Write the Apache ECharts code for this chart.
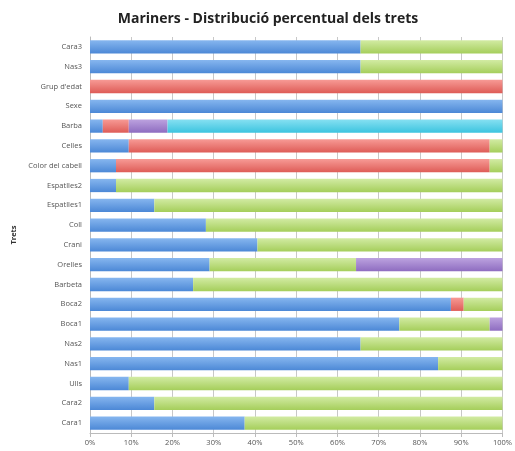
<!DOCTYPE html>
<html><head><meta charset="utf-8">
<script src="https://cdn.jsdelivr.net/npm/echarts@6/dist/echarts.min.js"></script>
<style>html,body{margin:0;padding:0;background:#fff}#c{width:515px;height:451px}</style>
</head><body><div id="c"></div>
<script>
// categories bottom to top
const categories = ["Cara1","Cara2","Ulls","Nas1","Nas2","Boca1","Boca2","Barbeta","Orelles","Crani","Coll","Espatlles1","Espatlles2","Color del cabell","Celles","Barba","Sexe","Grup d'edat","Nas3","Cara3"];
const tickLabels = ["0%","10%","20%","30%","40%","50%","60%","70%","80%","90%","100%"];
const serie1 = [37.5,15.6,9.4,84.4,65.6,75.0,87.5,25.0,29.0,40.6,28.1,15.6,6.3,6.3,9.4,3.1,100,0,65.6,65.6];
const serie2 = [0,0,0,0,0,0,3.1,0,0,0,0,0,0,90.6,87.5,6.3,0,100,0,0];
const serie3 = [62.5,84.4,90.6,15.6,34.4,21.9,9.4,75.0,35.5,59.4,71.9,84.4,93.7,3.1,3.1,0,0,0,34.4,34.4];
const serie4 = [0,0,0,0,0,3.1,0,0,35.5,0,0,0,0,0,0,9.4,0,0,0,0];
const serie5 = [0,0,0,0,0,0,0,0,0,0,0,0,0,0,0,81.2,0,0,0,0];

function grad(top, bottom){
  return new echarts.graphic.LinearGradient(0,0,0,1,[{offset:0,color:top},{offset:1,color:bottom}]);
}
const colors = [
  grad('#86B6EF','#4C88D6'),
  grad('#F79A95','#DE5C57'),
  grad('#D2EBA3','#A5CE5B'),
  grad('#BCA2DF','#8E6CC0'),
  grad('#86E0F2','#3CC4DF')
];
const data = [serie1,serie2,serie3,serie4,serie5];
const chart = echarts.init(document.getElementById('c'));
chart.setOption({
  animation:false,
  title:{text:'Mariners - Distribució percentual dels trets',left:263,textAlign:'center',top:7,
    textStyle:{fontFamily:'Open Sans',fontWeight:'bold',fontSize:14,color:'#222'}},
  grid:{left:90,right:10,top:37,bottom:18,containLabel:false},
  xAxis:{type:'value',min:0,max:100,interval:10,
    axisLabel:{formatter:v=>tickLabels[v/10],fontSize:7.5,color:'#555',fontFamily:'Open Sans',margin:6},
    axisLine:{show:true,lineStyle:{color:'#bbb'}},
    axisTick:{show:true,length:4,lineStyle:{color:'#bbb'}},
    splitLine:{show:true,lineStyle:{color:'#c8c8c8',width:1}}},
  yAxis:{type:'category',data:categories,name:'Trets',nameLocation:'middle',nameGap:70,nameRotate:90,
    nameTextStyle:{fontSize:7.5,fontWeight:'bold',color:'#333',fontFamily:'Open Sans'},
    axisLabel:{fontSize:7.5,color:'#555',fontFamily:'Open Sans',margin:8},
    axisLine:{show:true,lineStyle:{color:'#bbb'}},axisTick:{show:false},splitLine:{show:false}},
  series:data.map((d,i)=>({type:'bar',stack:'t',data:d,barCategoryGap:'33%',
    itemStyle:{color:colors[i]},emphasis:{disabled:true}}))
});
</script></body></html>
